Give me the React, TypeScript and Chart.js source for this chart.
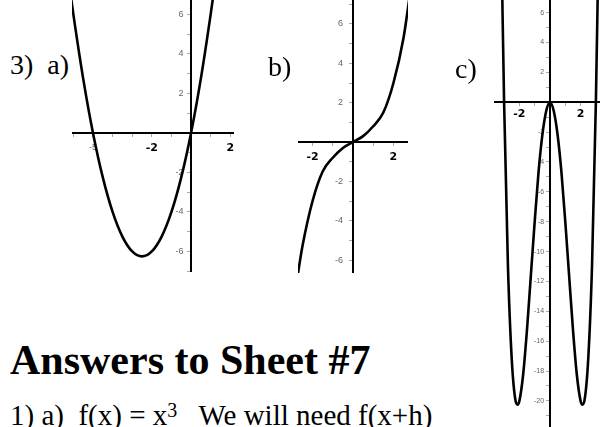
import React, { useEffect, useRef } from 'react';
import { Chart, registerables } from 'chart.js';

Chart.register(...registerables);

// ---- Graph a) : parabola (values read from the picture) ----
const A_X = [-6.25, -6, -5.5, -5, -4.5, -4, -3.5, -3, -2.5, -2, -1.5, -1, -0.5, 0, 0.5, 1, 1.25];
const A_Y = [7.8, 6, 2.75, 0, -2.25, -4, -5.25, -6, -6.25, -6, -5.25, -4, -2.25, 0, 2.75, 6, 7.8];
const A_X_TICK_LABELS = [-5, -2, 2];
const A_Y_TICK_LABELS = [6, 4, 2, -2, -4, -6];

// ---- Graph b) : cubic-like curve ----
const B_X = [-2.8, -2.5, -2, -1.5, -1, -0.5, 0, 0.5, 1, 1.5, 2, 2.5, 2.8];
const B_Y = [-7.2, -5.3, -3.0, -1.5, -0.8, -0.3, 0, 0.3, 0.8, 1.5, 3.0, 5.3, 7.4];
const B_X_TICK_LABELS = [-2, 2];
const B_Y_TICK_LABELS = [6, 4, 2, -2, -4, -6];

// ---- Graph c) : quartic W-curve ----
const C_X = [-3.2, -3.1, -3, -2.75, -2.5, -2.25, -2.12, -2, -1.75, -1.5, -1.25, -1, -0.75, -0.5, -0.25, 0,
  0.25, 0.5, 0.75, 1, 1.25, 1.5, 1.75, 2, 2.12, 2.25, 2.5, 2.75, 3, 3.1, 3.2];
const C_Y = [12.7, 5.9, 0, -10.9, -17.2, -20.0, -20.25, -20, -18.2, -15.2, -11.6, -8, -4.7, -2.2, -0.6, 0,
  -0.6, -2.2, -4.7, -8, -11.6, -15.2, -18.2, -20, -20.25, -20.0, -17.2, -10.9, 0, 5.9, 12.7];
const C_X_TICK_LABELS = [-2, 2];
const C_Y_TICK_LABELS = [6, 4, 2, -2, -4, -6, -8, -10, -12, -14, -16, -18, -20];

const BOLD_X_LABELS = [-2, 2];

type GraphProps = {
  xs: number[];
  ys: number[];
  xLabels: number[];
  yLabels: number[];
  xMin: number;
  xMax: number;
  yMin: number;
  yMax: number;
  left: number;
  top: number;
  width: number;
  height: number;
  xPad: number;
  yGap: string;
  smallFont: number;
};

const zeroFit = (s: any) => {
  if (s.isHorizontal()) s.height = 0;
  else s.width = 0;
  s.paddingLeft = 0;
  s.paddingRight = 0;
  s.paddingTop = 0;
  s.paddingBottom = 0;
};

function Graph(p: GraphProps) {
  const ref = useRef<HTMLCanvasElement | null>(null);
  useEffect(() => {
    if (!ref.current) return;
    const chart = new Chart(ref.current, {
      type: 'scatter',
      data: {
        datasets: [
          {
            data: p.xs.map((x, i) => ({ x, y: p.ys[i] })),
            showLine: true,
            borderColor: '#000',
            borderWidth: 2.6,
            pointRadius: 0,
            pointHoverRadius: 0,
            cubicInterpolationMode: 'monotone',
            fill: false,
          } as any,
        ],
      },
      options: {
        animation: false,
        responsive: false,
        maintainAspectRatio: false,
        events: [],
        layout: { padding: 0 },
        plugins: {
          legend: { display: false },
          tooltip: { enabled: false },
          title: { display: false },
        },
        scales: {
          x: {
            type: 'linear',
            min: p.xMin,
            max: p.xMax,
            position: { y: 0 } as any,
            border: { display: true, color: '#000', width: 2 },
            grid: { drawOnChartArea: false, drawTicks: true, tickLength: 3, color: '#aaa', lineWidth: 1 },
            ticks: {
              stepSize: 1,
              includeBounds: false,
              autoSkip: false,
              maxRotation: 0,
              minRotation: 0,
              padding: p.xPad,
              callback: (v: any) => (p.xLabels.includes(Number(v)) ? String(v) : ''),
              font: (ctx: any) =>
                BOLD_X_LABELS.includes(ctx.tick?.value)
                  ? { family: 'DejaVu Sans', size: 11, weight: 'bold' }
                  : { family: 'Liberation Sans', size: p.smallFont },
              color: (ctx: any) => (BOLD_X_LABELS.includes(ctx.tick?.value) ? '#000' : '#666'),
            },
            afterFit: zeroFit,
          } as any,
          y: {
            type: 'linear',
            min: p.yMin,
            max: p.yMax,
            position: { x: 0 } as any,
            border: { display: true, color: '#000', width: 2 },
            grid: { drawOnChartArea: false, drawTicks: true, tickLength: 3, color: '#aaa', lineWidth: 1 },
            ticks: {
              stepSize: 1,
              includeBounds: false,
              autoSkip: false,
              callback: (v: any) => (p.yLabels.includes(Number(v)) ? String(v) + p.yGap : ''),
              font: { family: 'Liberation Sans', size: p.smallFont },
              color: '#666',
            },
            afterFit: zeroFit,
          } as any,
        },
      },
    });
    return () => chart.destroy();
  }, []);
  return (
    <canvas
      ref={ref}
      width={p.width}
      height={p.height}
      style={{ position: 'absolute', left: p.left, top: p.top, width: p.width, height: p.height }}
    />
  );
}

const serif = '"Liberation Serif", "Times New Roman", serif';

export default function App() {
  return (
    <div
      style={{
        position: 'absolute',
        left: 0,
        top: 0,
        width: 600,
        height: 427,
        overflow: 'hidden',
        background: '#fff',
        color: '#000',
        fontFamily: serif,
      }}
    >
      <Graph xs={A_X} ys={A_Y} xLabels={A_X_TICK_LABELS} yLabels={A_Y_TICK_LABELS}
        xMin={-6.07} xMax={2.19} yMin={-7.04} yMax={6.73}
        left={72} top={0} width={162} height={272} xPad={6} yGap={'   '} smallFont={9} />
      <Graph xs={B_X} ys={B_Y} xLabels={B_X_TICK_LABELS} yLabels={B_Y_TICK_LABELS}
        xMin={-2.72} xMax={2.72} yMin={-6.66} yMax={7.22}
        left={298} top={0} width={110} height={273} xPad={6} yGap={'    '} smallFont={9} />
      <Graph xs={C_X} ys={C_Y} xLabels={C_X_TICK_LABELS} yLabels={C_Y_TICK_LABELS}
        xMin={-3.66} xMax={3.27} yMin={-21.75} yMax={6.85}
        left={494} top={0} width={106} height={427} xPad={2} yGap={'   '} smallFont={7} />

      <div style={{ position: 'absolute', left: 10, top: 50.5, fontSize: 28, lineHeight: 1, whiteSpace: 'pre' }}>
        {'3)  a)'}
      </div>
      <div style={{ position: 'absolute', left: 268, top: 52.5, fontSize: 28, lineHeight: 1, whiteSpace: 'pre' }}>
        {'b)'}
      </div>
      <div style={{ position: 'absolute', left: 455, top: 54.5, fontSize: 28, lineHeight: 1, whiteSpace: 'pre' }}>
        {'c)'}
      </div>
      <div style={{ position: 'absolute', left: 10, top: 338.8, fontSize: 42, fontWeight: 'bold', lineHeight: 1, whiteSpace: 'pre' }}>
        {'Answers to Sheet #7'}
      </div>
      <div style={{ position: 'absolute', left: 10, top: 400.7, fontSize: 29, lineHeight: 1, whiteSpace: 'pre' }}>
        {'1) a)  f(x) = x'}
        <span style={{ fontSize: 20, position: 'relative', top: -8 }}>3</span>
        {'   We will need f(x+h)'}
      </div>
    </div>
  );
}
